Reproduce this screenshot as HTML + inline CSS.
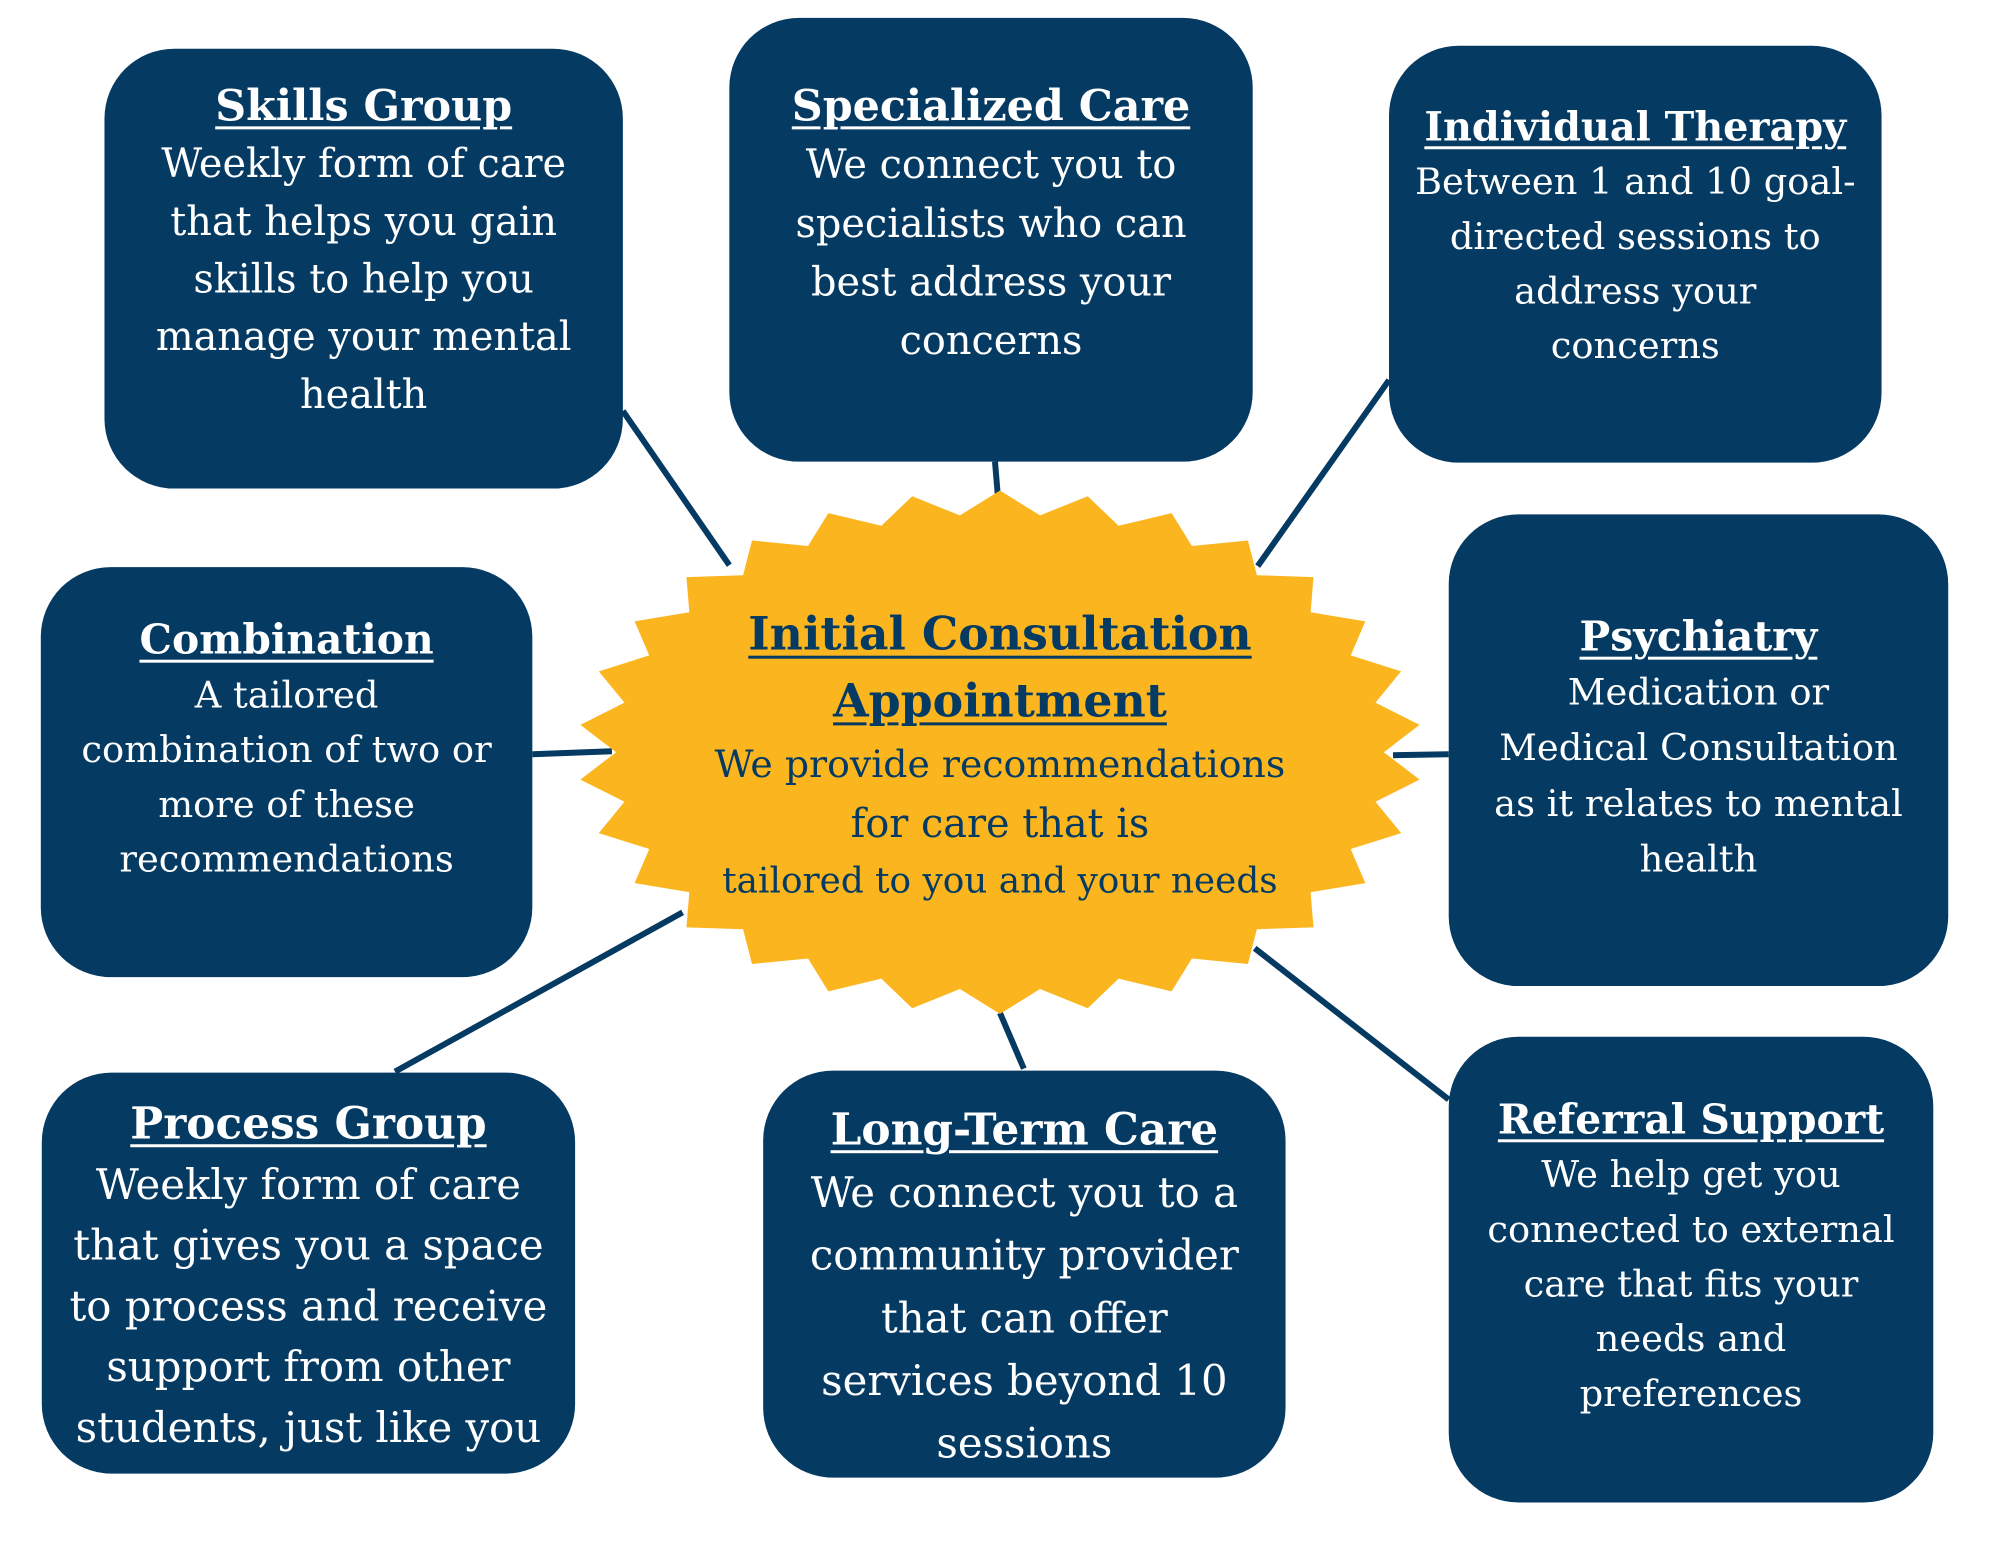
<!DOCTYPE html>
<html><head><meta charset="utf-8"><style>
html,body{margin:0;padding:0;background:#fff;}
#w{width:2000px;height:1545px;overflow:hidden;position:relative;}
#c{position:relative;width:2000px;height:1545px;transform:scale(0.995);transform-origin:0 0;}
svg{position:absolute;left:0;top:0;}
.b{position:absolute;background:#053a63;border-radius:70px;color:#fff;text-align:center;font-family:"DejaVu Serif","Liberation Serif",serif;box-sizing:border-box;}
.b div{white-space:nowrap;}
.h{font-weight:bold;text-decoration:underline;text-decoration-thickness:3px;text-underline-offset:6px;}
#ctr{position:absolute;left:605px;top:604px;width:800px;text-align:center;color:#053a63;font-family:"DejaVu Serif","Liberation Serif",serif;}
#ctr div{white-space:nowrap;}
</style></head><body><div id="w"><div id="c">
<svg width="2000" height="1545" viewBox="0 0 2000 1545">
<g stroke="#053a63" stroke-width="6" stroke-linecap="butt">
<line x1="626" y1="413" x2="733" y2="568"/>
<line x1="1000" y1="464" x2="1003" y2="500"/>
<line x1="1396" y1="382" x2="1264" y2="569"/>
<line x1="535" y1="758" x2="615" y2="755"/>
<line x1="1400" y1="759" x2="1456" y2="758"/>
<line x1="397" y1="1077" x2="686" y2="917"/>
<line x1="1005" y1="1018" x2="1029" y2="1074"/>
<line x1="1261" y1="953" x2="1456" y2="1105"/>
</g>
<polygon id="star" fill="#fbb51f" points=""/>
</svg>
<script>
(function(){var n=30,cx=1005,cy=756,rx=424,ry=263,k=0.91,p=[];
for(var i=0;i<2*n;i++){var a=-Math.PI/2+i*Math.PI/n;var r=(i%2==0)?1:k;
p.push((cx+rx*r*Math.cos(a)).toFixed(1)+","+(cy+ry*r*Math.sin(a)).toFixed(1));}
document.getElementById('star').setAttribute('points',p.join(' '));})();
</script>

<div class="b" style="left:105px;top:49px;width:521px;height:442px;padding-top:29px;font-size:40px;line-height:58px;">
<div class="h" style="font-size:43px">Skills Group</div>
<div>Weekly form of care</div><div>that helps you gain</div><div>skills to help you</div><div>manage your mental</div><div>health</div></div>

<div class="b" style="left:733px;top:18px;width:526px;height:446px;padding-top:60px;font-size:40px;line-height:59px;">
<div class="h" style="font-size:43px">Specialized Care</div>
<div>We connect you to</div><div>specialists who can</div><div>best address your</div><div>concerns</div></div>

<div class="b" style="left:1396px;top:46px;width:495px;height:419px;padding-top:54px;font-size:37px;line-height:55px;">
<div class="h" style="font-size:40px">Individual Therapy</div>
<div>Between 1 and 10 goal-</div><div>directed sessions to</div><div>address your</div><div>concerns</div></div>

<div class="b" style="left:41px;top:570px;width:494px;height:412px;padding-top:46px;font-size:37px;line-height:55px;">
<div class="h" style="font-size:41px">Combination </div>
<div>A tailored</div><div>combination of two or</div><div>more of these</div><div>recommendations</div></div>

<div class="b" style="left:1456px;top:517px;width:502px;height:474px;padding-top:95px;font-size:37px;line-height:56px;">
<div class="h" style="font-size:41px">Psychiatry </div>
<div>Medication or</div><div>Medical Consultation</div><div>as it relates to mental</div><div>health</div></div>

<div class="b" style="left:42px;top:1078px;width:536px;height:403px;padding-top:21px;font-size:42px;line-height:61px;">
<div class="h" style="font-size:44px">Process Group</div>
<div>Weekly form of care</div><div>that gives you a space</div><div>to process and receive</div><div>support from other</div><div>students, just like you</div></div>

<div class="b" style="left:767px;top:1076px;width:525px;height:409px;padding-top:28px;font-size:42px;line-height:63px;">
<div class="h" style="font-size:44px">Long-Term Care</div>
<div>We connect you to a</div><div>community provider</div><div>that can offer</div><div>services beyond 10</div><div>sessions</div></div>

<div class="b" style="left:1456px;top:1042px;width:487px;height:468px;padding-top:56px;font-size:37px;line-height:55px;">
<div class="h" style="font-size:41px">Referral Support</div>
<div>We help get you</div><div>connected to external</div><div>care that fits your</div><div>needs and</div><div>preferences</div></div>

<div id="ctr">
<div class="h" style="font-size:46px;line-height:67px;">Initial Consultation </div>
<div class="h" style="font-size:46px;line-height:67px;">Appointment</div>
<div style="font-size:38px;line-height:60px;">We provide recommendations</div>
<div style="font-size:40px;line-height:60px;">for care that is</div>
<div style="font-size:36px;line-height:56px;">tailored to you and your needs</div>
</div>
</div></div></body></html>
